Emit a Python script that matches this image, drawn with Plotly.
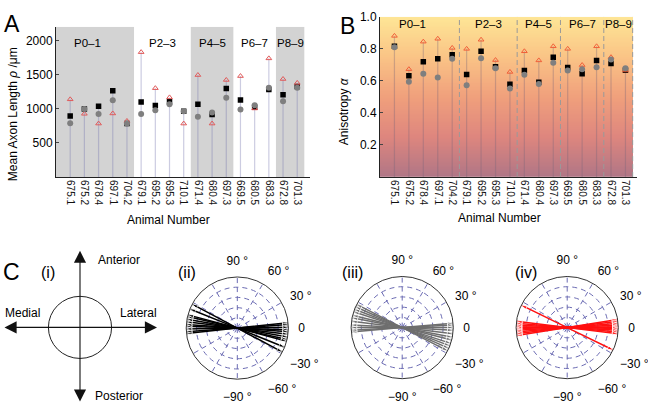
import numpy as np
import plotly.graph_objects as go

# ---------------- data ----------------
animals = ["675.1", "675.2", "678.4", "697.1", "704.2", "679.1", "695.2", "695.3", "710.1",
           "671.4", "680.4", "697.3", "669.5", "680.5", "683.3", "672.8", "701.3"]
groups = ["P0–1", "P2–3", "P4–5", "P6–7", "P8–9"]
group_sizes = [5, 4, 3, 3, 2]

# Panel A: mean axon length (um)
rho_square = [892, 997, 1036, 1261, 782, 1098, 1046, 1103, 964, 1065, 916, 1295, 1127, 1021, 1281, 1204, 1324]
rho_circle = [787, 997, 921, 1122, 782, 921, 978, 1065, 964, 882, 945, 1161, 988, 1050, 1305, 1108, 1305]
rho_triangle = [1137, 925, 782, 930, 820, 1827, 1300, 1165, 782, 1492, 782, 1420, 1477, 1003, 1736, 1434, 1377]

# Panel B: anisotropy alpha
alpha_square = [0.816, 0.632, 0.720, 0.738, 0.763, 0.640, 0.785, 0.689, 0.579, 0.665, 0.591, 0.748, 0.683, 0.644, 0.728, 0.708, 0.667]
alpha_circle = [0.810, 0.595, 0.644, 0.622, 0.738, 0.573, 0.742, 0.679, 0.552, 0.638, 0.581, 0.714, 0.665, 0.673, 0.685, 0.734, 0.679]
alpha_triangle = [0.881, 0.673, 0.845, 0.863, 0.806, 0.800, 0.857, 0.730, 0.656, 0.785, 0.728, 0.816, 0.800, 0.699, 0.816, 0.748, 0.665]

# Panel C: principal directions (degrees)
angles_ii = [6, 4, 1, -2, -4, -7, -10, -13, -15, -22, -28]
angles_iii = [5, 3, 0, -3, -7, -11, -14, -18, -21, -24, -27]
angles_iv = [9, 7, 5, 3, 1, 0, -1, -3, -5, -7, -26]

polar_ticks = [0, 30, 60, 90, 120, 150, 180, 210, 240, 270, 300, 330]
polar_ticktext = ["0", "30 °", "60 °", "90 °", "", "", "", "", "", "−90 °", "−60 °", "−30 °"]

# ---------------- helpers ----------------
W, H = 648, 407
FONT = "Liberation Sans, Arial, sans-serif"


def px(x):
    return x / W


def py(y):
    return 1 - y / H


idx = list(range(len(animals)))
edges = list(np.cumsum(group_sizes) - 0.5)
left_edges = [-2] + edges[:-1]
centers = [(a + b) / 2 for a, b in zip(left_edges, edges)]

fig = go.Figure()


def stems(xs, *series):
    sx, sy = [], []
    for i in xs:
        sx += [i, i, None]
        sy += [0, max(s[i] for s in series), None]
    return sx, sy


# ---------- Panel A ----------
sx, sy = stems(idx, rho_square, rho_circle, rho_triangle)
fig.add_trace(go.Scatter(x=sx, y=sy, mode="lines", line=dict(color="rgba(120,120,175,0.38)", width=1.2),
                         xaxis="x", yaxis="y", hoverinfo="skip", showlegend=False))
fig.add_trace(go.Scatter(x=idx, y=rho_square, mode="markers", xaxis="x", yaxis="y", showlegend=False,
                         marker=dict(symbol="square", size=5.5, color="black")))
fig.add_trace(go.Scatter(x=idx, y=rho_triangle, mode="markers", xaxis="x", yaxis="y", showlegend=False,
                         marker=dict(symbol="triangle-up-open", size=5, color="#e05a5a", line=dict(width=1))))
fig.add_trace(go.Scatter(x=idx, y=rho_circle, mode="markers", xaxis="x", yaxis="y", showlegend=False,
                         marker=dict(symbol="circle", size=6, color="#7f7f7f")))

# ---------- Panel B ----------
ny = 120
yedges = np.linspace(0, 1, ny + 1)
zmid = [[(yedges[k] + yedges[k + 1]) / 2] for k in range(ny)]
fig.add_trace(go.Heatmap(x=[-1, edges[-1]], y=yedges, z=zmid, zmin=0, zmax=1, showscale=False,
                         colorscale=[[0, "rgb(176,118,134)"], [0.25, "rgb(222,134,126)"],
                                     [0.5, "rgb(240,160,124)"], [0.75, "rgb(250,196,134)"],
                                     [1, "rgb(254,230,150)"]],
                         xaxis="x2", yaxis="y2", hoverinfo="skip"))
sx, sy = stems(idx, alpha_square, alpha_circle, alpha_triangle)
fig.add_trace(go.Scatter(x=sx, y=sy, mode="lines", line=dict(color="rgba(120,100,120,0.35)", width=1.2),
                         xaxis="x2", yaxis="y2", hoverinfo="skip", showlegend=False))
fig.add_trace(go.Scatter(x=idx, y=alpha_square, mode="markers", xaxis="x2", yaxis="y2", showlegend=False,
                         marker=dict(symbol="square", size=5.5, color="black")))
fig.add_trace(go.Scatter(x=idx, y=alpha_triangle, mode="markers", xaxis="x2", yaxis="y2", showlegend=False,
                         marker=dict(symbol="triangle-up-open", size=5, color="#f0603a", line=dict(width=1))))
fig.add_trace(go.Scatter(x=idx, y=alpha_circle, mode="markers", xaxis="x2", yaxis="y2", showlegend=False,
                         marker=dict(symbol="circle", size=6, color="#7f7f7f")))


# ---------- Panel C polar arrows ----------
def arrow_trace(angles, color, subplot, width):
    r, th, ang, sz = [], [], [], []
    for a in angles:
        r += [1, 0, 1, None]
        th += [a + 180, a, a, None]
        ang += [-90 - a, 0, 90 - a, 0]
        sz += [6, 0, 6, 0]
    return go.Scatterpolar(r=r, theta=th, mode="lines+markers", subplot=subplot, showlegend=False,
                           line=dict(color=color, width=width), cliponaxis=False,
                           marker=dict(symbol="arrow", size=sz, angle=ang, color=color),
                           hoverinfo="skip")


fig.add_trace(arrow_trace(angles_ii, "black", "polar", 1.5))
fig.add_trace(arrow_trace(angles_iii, "#6e6e6e", "polar2", 1.5))
fig.add_trace(arrow_trace(angles_iv, "#ff1010", "polar3", 1.5))

# ---------------- layout ----------------
axis_common = dict(showgrid=False, zeroline=False, showline=True, linecolor="#222", linewidth=1,
                   tickfont=dict(size=12, color="black", family=FONT))

xaxis_cat = dict(axis_common, tickmode="array", tickvals=idx, ticktext=animals, tickangle=90,
                 tickfont=dict(size=10, color="#111", family=FONT), ticks="")

grid_col = "#6b6bb3"


def polar_cfg(x0, x1, y0, y1):
    return dict(
        domain=dict(x=[px(x0), px(x1)], y=[py(y1), py(y0)]),
        bgcolor="white",
        radialaxis=dict(range=[0, 1], tickvals=[0.2, 0.4, 0.6, 0.8], showticklabels=False, ticks="",
                        showline=False, gridcolor=grid_col, griddash="5px,4px", gridwidth=1),
        angularaxis=dict(tickmode="array", tickvals=polar_ticks, ticktext=polar_ticktext,
                         direction="counterclockwise", rotation=0, showline=True, linecolor="#333",
                         linewidth=1, gridcolor=grid_col, griddash="5px,4px", gridwidth=1,
                         ticks="outside", ticklen=7, tickcolor="rgba(0,0,0,0)",
                         tickfont=dict(size=12, color="black", family=FONT)),
    )


shapes = []
# grey bands in A
for gi, (a, b) in enumerate(zip([-1] + edges[:-1], edges)):
    if gi % 2 == 0:
        shapes.append(dict(type="rect", xref="x", yref="y", x0=a, x1=b, y0=0, y1=2200,
                           fillcolor="#d3d3d3", line=dict(width=0), layer="below"))
# dashed separators in B
for e in edges:
    shapes.append(dict(type="line", xref="x2", yref="y2", x0=e, x1=e, y0=0, y1=1,
                       line=dict(color="#9a9a9a", width=1, dash="5px,3px")))
# circle in C(i)
shapes.append(dict(type="circle", xref="x3", yref="y3", x0=-31.6, x1=31.6, y0=-31.6, y1=31.6,
                   line=dict(color="#222", width=1)))

annotations = []
for g, c in zip(groups, centers):
    annotations.append(dict(x=c, y=1960, xref="x", yref="y", text=g, showarrow=False,
                            font=dict(size=11.5, family=FONT, color="black")))
    annotations.append(dict(x=c, y=0.954, xref="x2", yref="y2", text=g, showarrow=False,
                            font=dict(size=11.5, family=FONT, color="black")))


def ptext(x, y, text, size=12, angle=0):
    annotations.append(dict(x=px(x), y=py(y), xref="paper", yref="paper", text=text, showarrow=False,
                            textangle=angle, xanchor="center", yanchor="middle",
                            font=dict(size=size, family=FONT, color="black")))


ptext(12, 17, "A", 23)
ptext(347, 19, "B", 23)
ptext(11, 270, "C", 23)
ptext(47.5, 270, "(i)", 16)
ptext(187, 270, "(ii)", 16)
ptext(352.5, 270, "(iii)", 16)
ptext(525.7, 270, "(iv)", 16)
ptext(13, 109, "Mean Axon Length <i>ρ</i> /μm", 12, -90)
ptext(344, 106, "Anisotropy <i>α</i>", 12, -90)
ptext(168, 217, "Animal Number", 12)
ptext(499, 215, "Animal Number", 12)

# C(i) compass
for (x, y, ax, ay) in [(77, 0, -77, 0), (0, 78, 0, -77)]:
    annotations.append(dict(x=x, y=y, ax=ax, ay=ay, xref="x3", yref="y3", axref="x3", ayref="y3",
                            text="", showarrow=True, arrowhead=2, startarrowhead=2, arrowside="end+start",
                            arrowsize=2.2, startarrowsize=2.2, arrowwidth=1.1, arrowcolor="#111"))
for (x, y, t) in [(39, 69, "Anterior"), (58, 15, "Lateral"), (-58, 15, "Medial"), (39, -70, "Posterior")]:
    annotations.append(dict(x=x, y=y, xref="x3", yref="y3", text=t, showarrow=False,
                            font=dict(size=12, family=FONT, color="black")))

fig.update_layout(
    width=W, height=H, margin=dict(l=0, r=0, t=0, b=0),
    paper_bgcolor="white", plot_bgcolor="white", showlegend=False,
    font=dict(family=FONT, color="black"),
    xaxis=dict(xaxis_cat, domain=[px(56), px(310)], range=[-1, 16.9], anchor="y"),
    yaxis=dict(axis_common, domain=[py(173), py(20)], range=[0, 2200], tickvals=[500, 1000, 1500, 2000],
               ticks="inside", ticklen=3, anchor="x"),
    xaxis2=dict(xaxis_cat, domain=[px(380), px(637)], range=[-1, 16.8], anchor="y2"),
    yaxis2=dict(axis_common, domain=[py(173), py(10)], range=[0, 1], tickvals=[0.2, 0.4, 0.6, 0.8, 1.0],
                ticktext=["0.2", "0.4", "0.6", "0.8", "1.0"], ticks="inside", ticklen=3, anchor="x2"),
    xaxis3=dict(domain=[0, px(160)], range=[-80, 80], visible=False, anchor="y3"),
    yaxis3=dict(domain=[0, py(245)], range=[-81, 81], visible=False, anchor="x3"),
    polar=polar_cfg(185.3, 289.3, 274.7, 378.7),
    polar2=polar_cfg(350.2, 454.2, 274.2, 378.2),
    polar3=polar_cfg(515.2, 619.2, 274.2, 378.2),
    shapes=shapes, annotations=annotations,
)

fig.write_html("out.html", config={"displayModeBar": False, "staticPlot": True},
               post_script="document.body.style.margin='0px';document.body.style.overflow='hidden';")
